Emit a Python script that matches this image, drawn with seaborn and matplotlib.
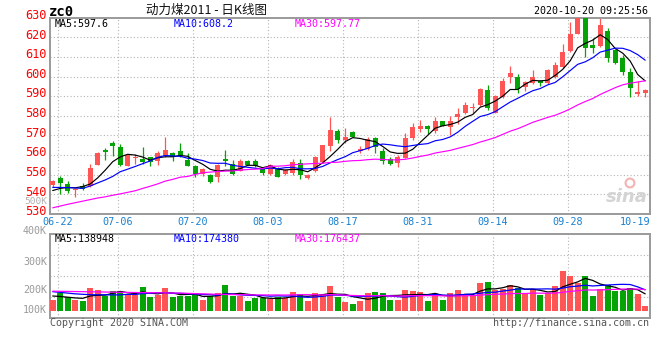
import numpy as np
import pandas as pd
import matplotlib
matplotlib.use("Agg")
import matplotlib.pyplot as plt
import matplotlib.transforms as mtrans
import seaborn as sns

# ---------------- data ----------------
dates = ["06-19", "06-22", "06-23", "06-24", "06-29", "06-30",
         "07-01", "07-02", "07-03", "07-06", "07-07", "07-08", "07-09", "07-10",
         "07-13", "07-14", "07-15", "07-16", "07-17", "07-20", "07-21", "07-22",
         "07-23", "07-24", "07-27", "07-28", "07-29", "07-30", "07-31",
         "08-03", "08-04", "08-05", "08-06", "08-07", "08-10", "08-11", "08-12",
         "08-13", "08-14", "08-17", "08-18", "08-19", "08-20", "08-21", "08-24",
         "08-25", "08-26", "08-27", "08-28", "08-31",
         "09-01", "09-02", "09-03", "09-04", "09-07", "09-08", "09-09", "09-10",
         "09-11", "09-14", "09-15", "09-16", "09-17", "09-18", "09-21", "09-22",
         "09-23", "09-24", "09-25", "09-28", "09-29", "09-30",
         "10-09", "10-12", "10-13", "10-14", "10-15", "10-16", "10-19", "10-20"]

open_ = [544.7, 548.5, 545.3, 542.2, 544.2, 544.2, 555.1, 562.4, 566.0, 564.1,
         554.6, 558.7, 558.0, 558.9, 557.1, 559.5, 560.9, 562.1, 557.5, 554.4,
         550.3, 549.8, 549.0, 557.8, 555.4, 552.0, 557.0, 557.0, 553.6, 550.3,
         553.3, 550.3, 550.7, 556.0, 548.2, 551.7, 556.6, 564.4, 572.3, 567.7,
         571.8, 562.2, 562.9, 568.8, 562.2, 558.0, 555.8, 558.5, 568.5, 573.1,
         574.8, 572.4, 577.4, 574.5, 579.2, 581.3, 583.8, 585.5, 593.2, 581.6,
         589.7, 599.9, 599.9, 594.8, 596.7, 597.7, 596.6, 599.9, 605.0, 613.0,
         621.7, 630.0, 616.1, 615.7, 623.2, 613.3, 609.5, 602.3, 591.3, 591.4]

close = [546.8, 545.6, 541.8, 542.9, 542.6, 553.3, 561.2, 561.4, 564.5, 554.8,
         560.0, 559.2, 556.3, 556.6, 560.9, 562.6, 559.2, 559.5, 554.6, 550.3,
         552.9, 546.4, 554.8, 557.0, 550.2, 557.0, 554.9, 554.6, 551.0, 554.8,
         549.0, 552.4, 556.6, 549.6, 549.8, 559.2, 565.0, 572.8, 567.7, 569.4,
         569.4, 562.9, 568.2, 564.3, 557.1, 555.4, 559.2, 568.8, 574.1, 574.8,
         573.3, 577.5, 574.8, 577.4, 580.9, 585.5, 584.6, 593.5, 583.8, 590.1,
         597.9, 601.7, 593.5, 597.4, 599.8, 596.6, 603.3, 605.9, 612.7, 621.7,
         629.7, 614.4, 614.4, 626.3, 609.6, 606.9, 602.5, 594.2, 592.0, 593.4]

high = [547.3, 549.3, 546.8, 543.4, 545.6, 555.4, 561.7, 563.4, 567.3, 565.5,
        560.3, 560.5, 564.3, 559.2, 562.2, 569.4, 561.7, 566.3, 560.9, 554.8,
        553.6, 550.2, 555.4, 562.6, 557.5, 557.8, 557.3, 557.8, 554.0, 555.2,
        553.8, 552.8, 557.8, 557.8, 550.1, 559.5, 565.3, 579.5, 573.1, 573.6,
        572.0, 564.6, 569.4, 569.4, 563.4, 558.9, 560.0, 571.1, 576.3, 577.9,
        575.3, 579.2, 577.6, 579.9, 583.8, 587.2, 586.7, 594.0, 595.7, 590.5,
        599.1, 605.4, 601.3, 597.8, 603.3, 598.2, 603.6, 607.3, 616.4, 627.6,
        630.5, 630.0, 619.8, 630.0, 624.9, 614.2, 611.0, 604.3, 597.5, 593.6]

low = [543.6, 540.0, 540.8, 538.5, 542.2, 543.6, 555.1, 557.5, 559.5, 554.6,
       554.4, 555.4, 555.4, 554.3, 554.8, 559.2, 557.0, 559.2, 554.4, 548.7,
       549.3, 546.0, 546.4, 554.6, 550.0, 552.0, 554.7, 553.7, 549.8, 550.0,
       548.8, 549.6, 549.8, 548.0, 547.8, 551.3, 556.0, 562.1, 566.1, 566.3,
       569.2, 561.2, 562.6, 561.2, 555.4, 555.0, 554.1, 558.3, 567.7, 571.9,
       570.7, 571.4, 574.6, 570.2, 575.8, 581.0, 581.3, 585.0, 583.0, 581.2,
       588.9, 596.9, 591.5, 592.8, 596.4, 595.3, 596.3, 599.1, 604.2, 612.7,
       621.5, 610.1, 611.8, 615.2, 607.6, 606.2, 600.8, 589.6, 590.2, 589.7]

volume = [89000, 143000, 111000, 89000, 81000, 186000, 172000, 120000, 161000, 161000,
          134000, 130000, 194000, 111000, 130000, 186000, 116000, 122000, 122000, 144000,
          89000, 122000, 144000, 213000, 122000, 122000, 81000, 108000, 108000, 95000,
          116000, 103000, 158000, 139000, 81000, 149000, 139000, 205000, 111000, 75000,
          56000, 83000, 149000, 158000, 149000, 89000, 89000, 172000, 166000, 158000,
          83000, 139000, 89000, 149000, 172000, 130000, 130000, 232000, 241000, 172000,
          178000, 213000, 186000, 139000, 178000, 130000, 144000, 205000, 332000, 288000,
          227000, 288000, 122000, 183000, 213000, 166000, 166000, 186000, 139000, 42000]

# moving-average values before a full window exists
ma5_head = [541.9, 543.0, 543.5, 543.3]
ma10_head = [543.5, 543.5, 543.4, 543.2, 543.0, 544.2, 545.8, 547.3, 549.1]
ma30_head = [533.1, 534.0, 534.9, 535.7, 536.5, 537.3, 538.1, 538.7, 539.5, 540.2,
             541.0, 541.8, 543.0, 544.1, 545.3, 546.7, 547.6, 548.7, 549.1, 550.1,
             551.0, 551.3, 551.6, 551.8, 551.9, 552.3, 552.6, 552.8, 553.1]
vma5_head = [122000, 118000, 112000, 106000]
vma10_head = [158000, 152000, 146000, 140000, 136000, 133000, 132000, 132000, 131000]
vma30_head = [162000, 161000, 160000, 159000, 158000, 157000, 156000, 155000, 154000, 153000,
              152000, 151000, 150000, 150000, 149000, 148000, 147000, 146000, 144000, 142000,
              140000, 138000, 136000, 135000, 134000, 133000, 132000, 131000, 131000]

tick_labels = ["06-22", "07-06", "07-20", "08-03", "08-17", "08-31", "09-14", "09-28", "10-19"]
grid_labels = ["06-22", "07-06", "07-20", "08-03", "08-17", "08-31", "09-14", "09-28"]
price_ticks = [530, 540, 550, 560, 570, 580, 590, 600, 610, 620, 630]
vol_labels = ["400K", "300K", "200K", "100K"]

title_code = "zc0"
title_cn = "动力煤2011 - 日K线图"
timestamp = "2020-10-20 09:25:56"
price_ma_text = ["MA5:597.6", "MA10:608.2", "MA30:597.77"]
vol_ma_text = ["MA5:138948", "MA10:174380", "MA30:176437"]

# ---------------- styling ----------------
sns.set_theme(style="white")
plt.rcParams["font.family"] = ["DejaVu Sans Mono", "Noto Sans CJK SC", "DejaVu Sans"]

RED = "#ff5555"
GREEN = "#05a305"
MA_COLORS = ["#000000", "#0000ff", "#ff00ff"]
BORDER = "#9a9a9a"
GRID = "#b4b4b4"
W, H = 660, 360

n = len(dates)
idx = np.arange(n)
o = np.array(open_)
c = np.array(close)
hi = np.array(high)
lo = np.array(low)
up = c >= o
cols = np.where(up, RED, GREEN)


def moving(values, win, head):
    m = pd.Series(values, dtype=float).rolling(win).mean().to_numpy()
    m[:len(head)] = head
    return m


price_mas = [moving(close, 5, ma5_head), moving(close, 10, ma10_head), moving(close, 30, ma30_head)]
vol_mas = [moving(volume, 5, vma5_head), moving(volume, 10, vma10_head), moving(volume, 30, vma30_head)]

fig = plt.figure(figsize=(6.6, 3.6), dpi=100)
fig.patch.set_facecolor("white")

left_px, right_px = 50, 649.5
ax = fig.add_axes([left_px / W, 1 - 213.9 / H, (right_px - left_px) / W, (213.9 - 17.7) / H])
axv = fig.add_axes([left_px / W, 1 - 318.3 / H, (right_px - left_px) / W, (318.3 - 234.3) / H])

step = 7.5
xlim = (-(52.7 - left_px) / step, (n - 1) + (right_px - (52.7 + (n - 1) * step)) / step)

grid_pos = [dates.index(d) for d in grid_labels]
tick_pos = [dates.index(d) for d in tick_labels]
grid_kw = dict(color=GRID, lw=0.8, ls=(0, (1, 2)), zorder=0.5)

# ---- price panel ----
for p in price_ticks[1:-1]:
    ax.axhline(p, **grid_kw)
for gx in grid_pos:
    ax.axvline(gx - 0.3, **grid_kw)

ax.vlines(idx, lo, hi, colors=cols, lw=0.9, zorder=2)
body_h = np.maximum(np.abs(c - o), 0.5)
ax.bar(idx, body_h, bottom=np.minimum(o, c), width=0.72, color=cols, linewidth=0, zorder=3)

for m, col in zip(price_mas, MA_COLORS):
    sns.lineplot(x=idx, y=m, ax=ax, color=col, linewidth=0.85, zorder=4)

ax.set_xlim(*xlim)
ax.set_ylim(530, 630)
ax.set_yticks([])
ax.set_xticks([p - 0.3 for p in tick_pos])
ax.set_xticklabels(tick_labels, color="#1a80d0", fontsize=7.3)
ax.tick_params(axis="x", length=0, pad=2.5)
ax.set_xlabel("")
ax.set_ylabel("")

ylab_tr = mtrans.blended_transform_factory(fig.transFigure, ax.transData) + \
    mtrans.ScaledTranslation(0, 0.022, fig.dpi_scale_trans)
for p in price_ticks:
    ax.text(47 / W, p, str(p), transform=ylab_tr, ha="right", va="center",
            color="#ff0000", fontsize=8.6, clip_on=False)

ma_x = [55, 174, 295]
for t, col, xp in zip(price_ma_text, MA_COLORS, ma_x):
    ax.text((xp - left_px) / (right_px - left_px), (213.9 - 24) / (213.9 - 17.7), t,
            transform=ax.transAxes, color=col, fontsize=7.2, ha="left", va="center")

# sina watermark
ax.text((648 - left_px) / (right_px - left_px), (213.9 - 197) / (213.9 - 17.7), "sina",
        transform=ax.transAxes, ha="right", va="center", color="#d4d4d4",
        fontsize=13, fontstyle="italic", fontweight="bold", family="DejaVu Sans", zorder=1)
ax.scatter([(630 - left_px) / (right_px - left_px)], [(213.9 - 183) / (213.9 - 17.7)],
           transform=ax.transAxes, s=40, facecolors="none", edgecolors="#f2b6b6",
           linewidths=1.6, zorder=1)

# ---- volume panel ----
for f in (0.25, 0.5, 0.75):
    axv.plot([0, 1], [f, f], transform=axv.transAxes, **grid_kw)
for gx in grid_pos:
    axv.axvline(gx - 0.3, **grid_kw)

vdf = pd.DataFrame({"idx": idx, "volume": volume, "dir": np.where(up, "up", "down")})
sns.barplot(data=vdf, x="idx", y="volume", hue="dir", palette={"up": RED, "down": GREEN},
            native_scale=True, dodge=False, width=0.76, errorbar=None, saturation=1,
            linewidth=0, legend=False, ax=axv, zorder=3)

for m, col in zip(vol_mas, MA_COLORS):
    sns.lineplot(x=idx, y=m, ax=axv, color=col, linewidth=0.9, zorder=4)

axv.set_xlim(*xlim)
axv.set_ylim(-(318.3 - 310.7) * 8300, (310.7 - 234.3) * 8300)
axv.set_xticks([])
axv.set_yticks([])
axv.set_xlabel("")
axv.set_ylabel("")

vol_label_y = [230.8, 261.7, 290.3, 310.3]
for t, yp in zip(vol_labels, vol_label_y):
    fig.text(47 / W, 1 - yp / H, t, ha="right", va="center", color="#9a9a9a", fontsize=7.2)
fig.text(47 / W, 1 - 202 / H, "500K", ha="right", va="center", color="#b0b0b0", fontsize=6.8)

for t, col, xp in zip(vol_ma_text, MA_COLORS, ma_x):
    axv.text((xp - left_px) / (right_px - left_px), (318.3 - 238.5) / 84, t,
             transform=axv.transAxes, color=col, fontsize=7.2, ha="left", va="center")

for a in (ax, axv):
    a.set_facecolor("white")
    for s in a.spines.values():
        s.set_visible(True)
        s.set_color(BORDER)
        s.set_linewidth(1.4)

# ---- header / footer text ----
fig.text(49 / W, 1 - 12 / H, title_code, ha="left", va="center", fontsize=10,
         fontweight="bold", color="black")
fig.text(206 / W, 1 - 10 / H, title_cn, ha="center", va="center", fontsize=9,
         family=["Noto Sans CJK SC", "DejaVu Sans"], color="#111111")
fig.text(648 / W, 1 - 11 / H, timestamp, ha="right", va="center", fontsize=7.2, color="black")
fig.text(50 / W, 1 - 323.5 / H, "Copyright 2020 SINA.COM", ha="left", va="center",
         fontsize=7.2, color="#555555")
fig.text(649 / W, 1 - 323.5 / H, "http://finance.sina.com.cn", ha="right", va="center",
         fontsize=7.2, color="#555555")

fig.savefig("out.png", dpi=100, facecolor="white")
